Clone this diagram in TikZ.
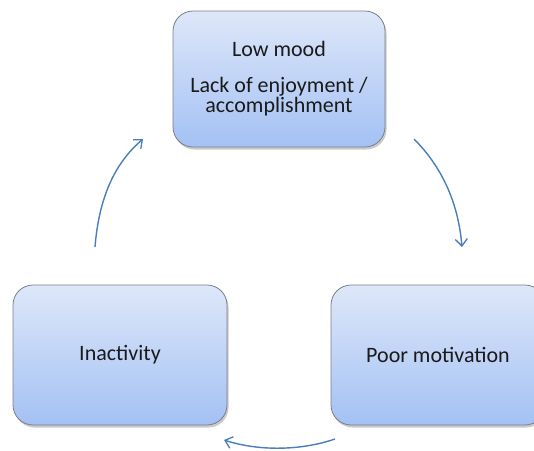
\documentclass[tikz,border=0pt]{standalone}
\usepackage{fontspec}
\setmainfont{Carlito}
\usetikzlibrary{shadows,arrows.meta}
\definecolor{boxtop}{HTML}{DEE7F9}
\definecolor{boxbot}{HTML}{A3C1F4}
\definecolor{boxline}{HTML}{7A7F88}
\definecolor{arrowc}{HTML}{4A7EBB}
\definecolor{txt}{HTML}{1A1A1A}
\tikzset{
  cyclebox/.style={rectangle, rounded corners=20pt, draw=boxline, line width=0.8pt,
    top color=boxtop, bottom color=boxbot, text=txt, align=center,
    font=\fontsize{22}{20}\selectfont,
    drop shadow={shadow xshift=1.5pt, shadow yshift=-2.5pt, opacity=0.35, fill=black!60}},
  cyclearrow/.style={draw=arrowc, line width=1.4pt, -{Straight Barb[length=7pt,width=12pt,line width=1.3pt]}}
}
\begin{document}
\begin{tikzpicture}[x=1pt,y=-1pt]
\useasboundingbox (0,0) rectangle (534,450);
\node[cyclebox, minimum width=212pt, minimum height=136pt] (mood) at (279,79)
  {Low mood\\[16pt]Lack of enjoyment /\\accomplishment};
\node[cyclebox, minimum width=214pt, minimum height=140pt] (inact) at (120,355) {Inactivity};
\node[cyclebox, minimum width=214pt, minimum height=140pt] (motiv) at (438,355) {Poor motivation};
\coordinate (a1s) at (95,247);
\coordinate (a1e) at (143,139);
\coordinate (a2s) at (414,139);
\coordinate (a2e) at (462,247);
\coordinate (a3s) at (335,439);
\coordinate (a3e) at (224,440);
\draw[cyclearrow] (a1s) .. controls (99,197) and (115,163) .. (a1e);
\draw[cyclearrow] (a2s) .. controls (440,165) and (458,200) .. (a2e);
\draw[cyclearrow] (a3s) .. controls (300,451) and (258,451) .. (a3e);
\end{tikzpicture}
\end{document}
